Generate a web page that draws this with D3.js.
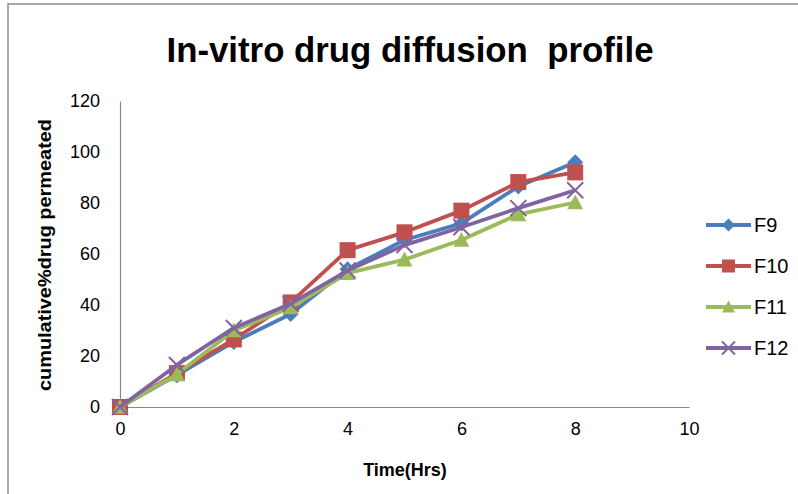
<!DOCTYPE html>
<html>
<head>
<meta charset="utf-8">
<script src="https://cdn.jsdelivr.net/npm/d3@7"></script>
<style>
  html, body { margin: 0; padding: 0; background: #fff; }
  svg { display: block; }
</style>
</head>
<body>
<svg id="chart" width="798" height="494"></svg>
<script>
// Sampling times (hours)
const hours = [0, 1, 2, 3, 4, 5, 6, 7, 8];

// Cumulative % drug permeated for each formulation
const f9  = [0, 12.5, 25.5, 36.5, 54, 65.5, 72, 86.5, 96];
const f10 = [0, 13.3, 26.5, 41, 61.5, 68.5, 77, 88.2, 92];
const f11 = [0, 12.8, 30, 39, 52.5, 57.8, 65.5, 75.5, 80.2];
const f12 = [0, 16.5, 31, 40.5, 53.5, 63.5, 70.5, 78, 85];

const seriesNames = ["F9", "F10", "F11", "F12"];
const seriesValues = [f9, f10, f11, f12];
const seriesColors = ["#4A7EBB", "#C0504D", "#9BBB59", "#8064A2"];
const seriesMarkers = ["diamond", "square", "triangle", "cross"];

const xTicks = [0, 2, 4, 6, 8, 10];
const yTicks = [0, 20, 40, 60, 80, 100, 120];

const svg = d3.select("#chart");
const font = "'Liberation Sans', Arial, sans-serif";

// Outer chart frame
svg.append("rect")
  .attr("x", 8).attr("y", 4)
  .attr("width", 820).attr("height", 520)
  .attr("fill", "#fff")
  .attr("stroke", "#8c8c8c")
  .attr("stroke-width", 1.5);

const x = d3.scaleLinear().domain([0, 10]).range([120, 689]);
const y = d3.scaleLinear().domain([0, 120]).range([407, 101]);

// Axes
const xAxis = d3.axisBottom(x).tickValues(xTicks).tickSize(0).tickPadding(22);
const yAxis = d3.axisLeft(y).tickValues(yTicks).tickSize(0).tickPadding(20);

const gx = svg.append("g").attr("transform", `translate(0,${y(0)})`).call(xAxis);
const gy = svg.append("g").attr("transform", `translate(${x(0)},0)`).call(yAxis);

[gx, gy].forEach(g => {
  g.select(".domain").attr("stroke", "#868686").attr("stroke-width", 1.2);
  g.selectAll("text")
    .attr("font-family", font)
    .attr("font-size", 18)
    .attr("fill", "#000");
});
gx.selectAll("text").attr("dy", "0.32em");

// Title
svg.append("text")
  .attr("x", 410).attr("y", 62)
  .attr("text-anchor", "middle")
  .attr("font-family", font)
  .attr("font-weight", "bold")
  .attr("font-size", 35)
  .attr("fill", "#000")
  .attr("textLength", 487)
  .attr("lengthAdjust", "spacingAndGlyphs")
  .style("white-space", "pre")
  .text("In-vitro drug diffusion  profile");

// Axis titles
svg.append("text")
  .attr("x", 405).attr("y", 476)
  .attr("text-anchor", "middle")
  .attr("font-family", font)
  .attr("font-weight", "bold")
  .attr("font-size", 18)
  .text("Time(Hrs)");

svg.append("text")
  .attr("transform", "translate(51,255) rotate(-90)")
  .attr("text-anchor", "middle")
  .attr("font-family", font)
  .attr("font-weight", "bold")
  .attr("font-size", 18)
  .attr("textLength", 272)
  .attr("lengthAdjust", "spacingAndGlyphs")
  .text("cumulative%drug permeated");

// Marker shapes
function drawMarker(g, type, color, size) {
  const s = size / 2;
  if (type === "diamond") {
    g.append("path").attr("d", `M0,${-s}L${s},0L0,${s}L${-s},0Z`).attr("fill", color);
  } else if (type === "square") {
    g.append("rect").attr("x", -s).attr("y", -s).attr("width", size).attr("height", size).attr("fill", color);
  } else if (type === "triangle") {
    g.append("path").attr("d", `M0,${-s}L${s},${s * 0.85}L${-s},${s * 0.85}Z`).attr("fill", color);
  } else {
    g.append("path").attr("d", `M${-s},${-s}L${s},${s}M${-s},${s}L${s},${-s}`)
      .attr("stroke", color).attr("stroke-width", 2).attr("fill", "none");
  }
}

const line = d3.line().x((d, i) => x(hours[i])).y(d => y(d));

seriesValues.forEach((vals, k) => {
  const g = svg.append("g");
  g.append("path")
    .attr("d", line(vals))
    .attr("fill", "none")
    .attr("stroke", seriesColors[k])
    .attr("stroke-width", 3.8)
    .attr("stroke-linejoin", "round");
  vals.forEach((v, i) => {
    const m = g.append("g").attr("transform", `translate(${x(hours[i])},${y(v)})`);
    drawMarker(m, seriesMarkers[k], seriesColors[k], 16);
  });
});

// Legend
const legend = svg.append("g");
seriesNames.forEach((name, k) => {
  const ly = 225 + k * 41;
  const row = legend.append("g");
  row.append("line")
    .attr("x1", 706).attr("x2", 751)
    .attr("y1", ly).attr("y2", ly)
    .attr("stroke", seriesColors[k]).attr("stroke-width", 3.8);
  const m = row.append("g").attr("transform", `translate(728.5,${ly})`);
  drawMarker(m, seriesMarkers[k], seriesColors[k], 13);
  row.append("text")
    .attr("x", 754).attr("y", ly)
    .attr("dy", "0.35em")
    .attr("font-family", font)
    .attr("font-size", 20)
    .text(name);
});
</script>
</body>
</html>
